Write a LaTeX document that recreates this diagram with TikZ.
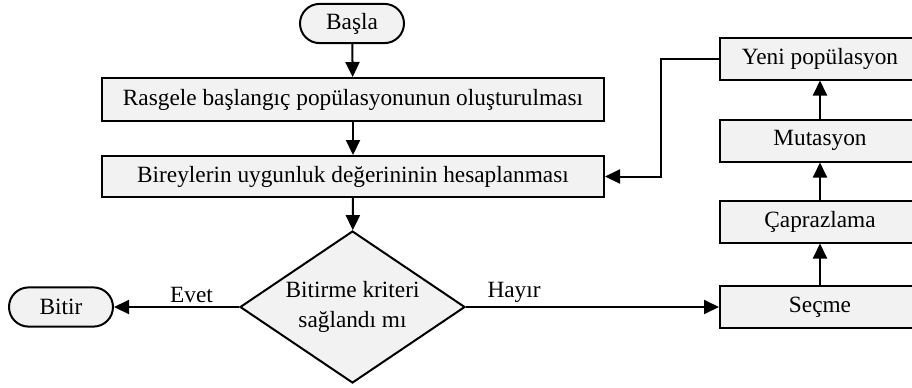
\documentclass[tikz,border=0pt]{standalone}
\usepackage{fontspec}
\setmainfont{Liberation Serif}
\usetikzlibrary{arrows.meta,shapes.geometric,positioning}
\definecolor{boxfill}{HTML}{F2F2F2}
\tikzset{
  base/.style={draw=black, line width=1pt, fill=boxfill, font=\fontsize{11.65}{14}\selectfont, inner sep=0pt},
  procbox/.style={base, rectangle, minimum height=21pt},
  termbox/.style={base, rectangle, rounded corners=9.8pt, minimum width=52pt, minimum height=19.6pt},
  decbox/.style={base, diamond, shape aspect=1.48, minimum width=112.5pt, minimum height=76pt, align=center, font=\fontsize{11.65}{15}\selectfont},
  arr/.style={draw=black, line width=1pt, -{Triangle[length=7.5pt,width=7pt]}},
  lbl/.style={font=\fontsize{11.65}{14}\selectfont, inner sep=1.5pt}
}
\begin{document}
\begin{tikzpicture}[x=0.5pt,y=-0.5pt]
\useasboundingbox (0,0) rectangle (912,387);
\clip (0,0) rectangle (912,387);
\node[termbox] (start) at (352,23.5) {Başla};
\node[procbox, minimum width=251pt, minimum height=21.5pt] (init) at (353,99.5) {Rasgele başlangıç popülasyonunun oluşturulması};
\node[procbox, minimum width=251pt, minimum height=20.5pt] (eval) at (353,176.5) {Bireylerin uygunluk değerininin hesaplanması};
\node[decbox] (dec) at (352.5,307) {Bitirme kriteri\\sağlandı mı};
\node[termbox] (stop) at (61,307) {Bitir};
\node[procbox, minimum width=100pt] (sel) at (820,307) {Seçme};
\node[procbox, minimum width=100pt] (cross) at (820,221.5) {Çaprazlama};
\node[procbox, minimum width=100pt] (mut) at (820,140.5) {Mutasyon};
\node[procbox, minimum width=100pt] (newpop) at (820,58.5) {Yeni popülasyon};

\draw[arr] (start) -- (init);
\draw[arr] (init) -- (eval);
\draw[arr] (eval) -- (dec);
\draw[arr] (dec.west) -- node[lbl, pos=0.38, above] {Evet} (stop.east);
\draw[arr] (dec.east) -- node[lbl, pos=0.19, above] {Hayır} (sel.west);
\draw[arr] (sel) -- (cross);
\draw[arr] (cross) -- (mut);
\draw[arr] (mut) -- (newpop);
\coordinate (bend) at (661,58.5);
\draw[arr] (newpop.west) -- (bend) |- (eval.east);
\end{tikzpicture}
\end{document}
